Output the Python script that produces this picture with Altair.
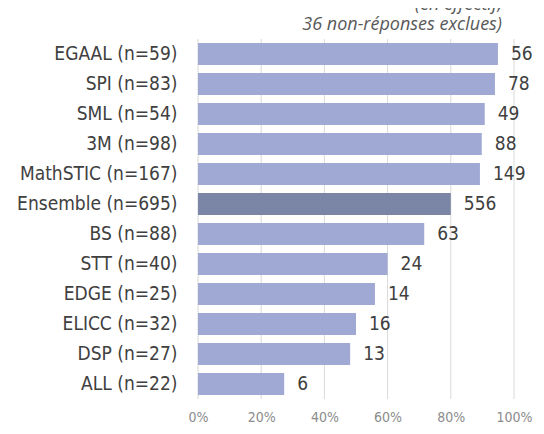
import altair as alt
import pandas as pd

categories = ["EGAAL", "SPI", "SML", "3M", "MathSTIC", "Ensemble",
              "BS", "STT", "EDGE", "ELICC", "DSP", "ALL"]
n_values = [59, 83, 54, 98, 167, 695, 88, 40, 25, 32, 27, 22]
counts = [56, 78, 49, 88, 149, 556, 63, 24, 14, 16, 13, 6]
x_ticks = [0, 0.2, 0.4, 0.6, 0.8, 1.0]
note_lines = ["(en effectif,", "36 non-réponses exclues)"]

labels = [f"{c} (n={n})" for c, n in zip(categories, n_values)]
df = pd.DataFrame({
    "label": labels,
    "count": counts,
    "pct": [c / n for c, n in zip(counts, n_values)],
    "grp": ["total" if c == "Ensemble" else "ed" for c in categories],
})
grid_df = pd.DataFrame({"v": x_ticks})

FONT = "DejaVu Sans Condensed"
xscale = alt.Scale(domain=[0, 1], nice=False)
xaxis = alt.Axis(values=x_ticks, format=".0%", domain=False, ticks=False,
                 grid=False, labelPadding=11, labelFontSize=14,
                 labelColor="#8c8c8c", labelFont=FONT, labelFlush=False)

grid = alt.Chart(grid_df).mark_rule(color="#d9d9d9", strokeWidth=1).encode(
    x=alt.X("v:Q", scale=xscale, title=None, axis=xaxis),
)

base = alt.Chart(df).encode(
    y=alt.Y("label:N", sort=labels, title=None,
            scale=alt.Scale(paddingInner=0.267, paddingOuter=0.133),
            axis=alt.Axis(domain=False, ticks=False, labelPadding=21,
                          labelFontSize=19, labelColor="#404040",
                          labelFont=FONT, grid=False)),
    x=alt.X("pct:Q", scale=xscale, title=None, axis=xaxis),
)

bars = base.mark_bar().encode(
    color=alt.Color("grp:N", legend=None,
                    scale=alt.Scale(domain=["ed", "total"],
                                    range=["#a0a9d3", "#7b86a6"])),
)

text = base.mark_text(align="left", baseline="middle", dx=13, fontSize=19,
                      color="#404040", font=FONT).encode(
    text=alt.Text("count:Q"),
)

note = alt.Chart(pd.DataFrame({"t": [note_lines]})).mark_text(
    align="right", baseline="alphabetic", fontSize=18, fontStyle="italic",
    font="Open Sans", color="#595959", lineHeight=20,
).encode(
    x=alt.value(304), y=alt.value(-29), text="t"
)

chart = alt.layer(grid, bars, text, note).properties(
    width=316, height=360,
    padding={"left": 190, "top": 31, "right": 22, "bottom": 27},
    autosize=alt.AutoSizeParams(type="none"),
).configure_view(stroke=None)

chart.save("out.html", embed_options={"renderer": "svg", "actions": False})
